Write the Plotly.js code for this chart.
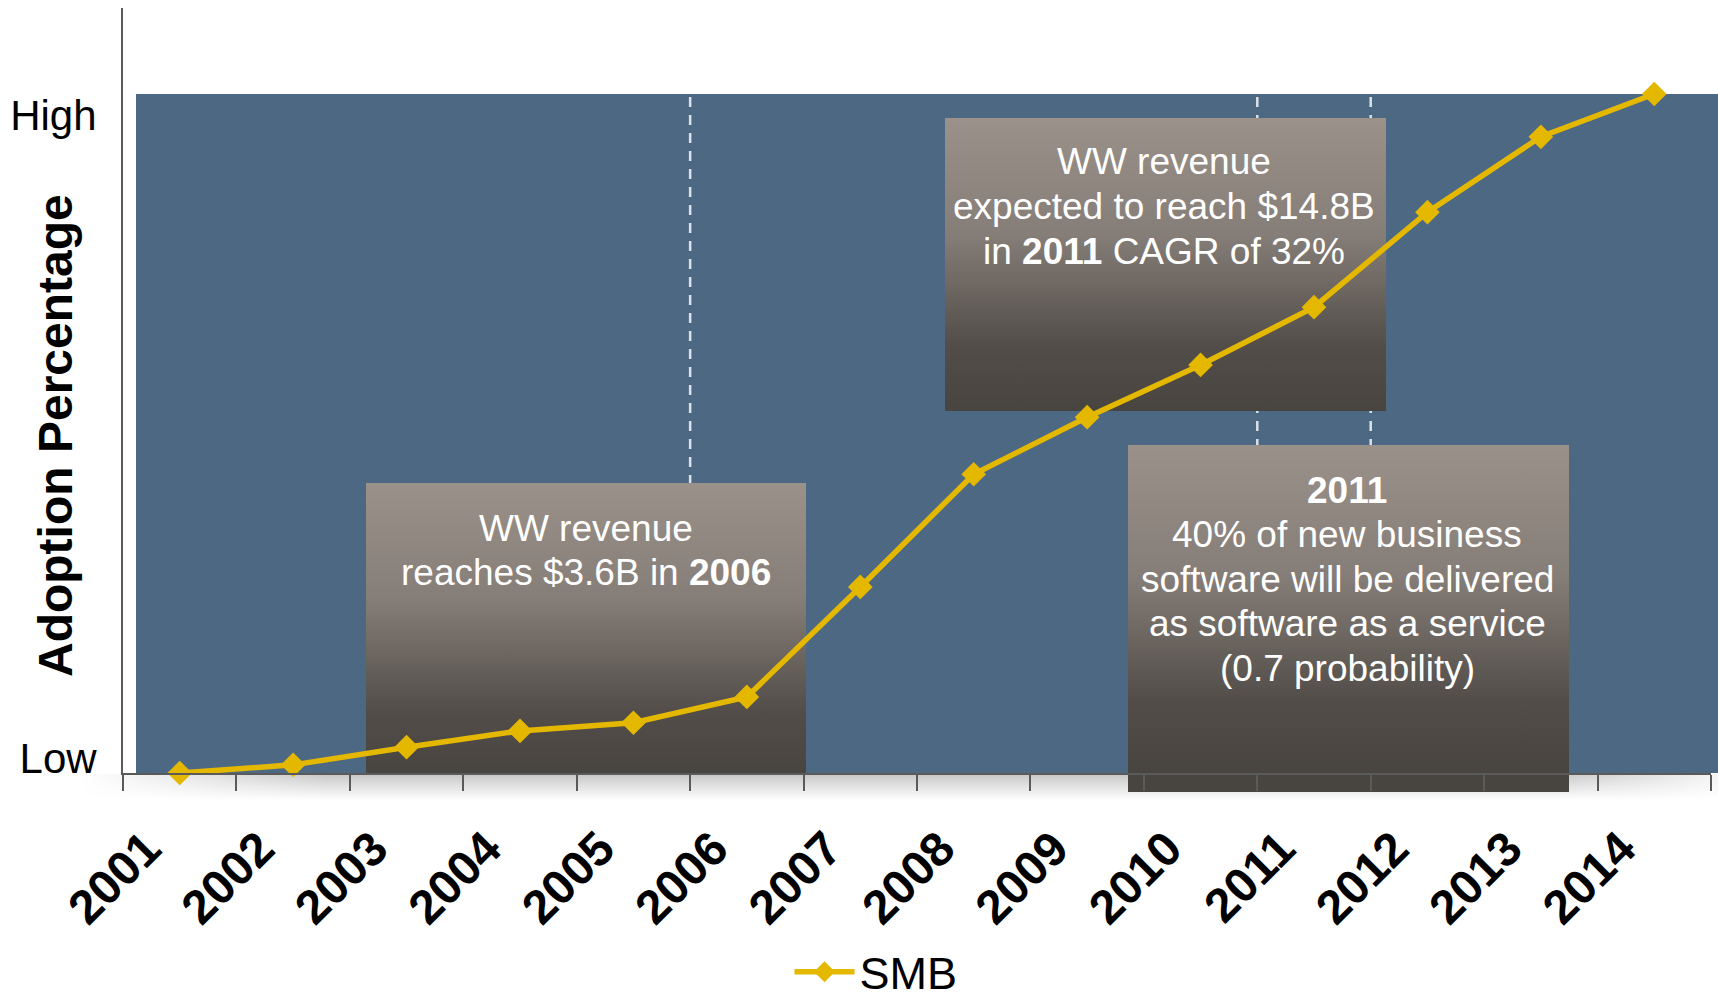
<!DOCTYPE html>
<html>
<head>
<meta charset="utf-8">
<script src="https://cdn.plot.ly/plotly-3.0.1.min.js"></script>
<style>
html,body{margin:0;padding:0;background:#ffffff;}
#chart{width:1718px;height:1000px;}
</style>
</head>
<body>
<div id="chart"></div>
<script>
// ---------------- DATA ----------------
const years = ['2001','2002','2003','2004','2005','2006','2007','2008','2009','2010','2011','2012','2013','2014'];
const smbAdoption = [0, 1.2, 3.8, 6.2, 7.4, 11.2, 27.4, 44, 52.4, 60.1, 68.6, 82.6, 93.7, 100];
const seriesName = 'SMB';
const yTickVals = [2.1, 96.8];
const yTickText = ['Low', 'High'];
const yTitle = 'Adoption Percentage';
const milestoneBounds = [4.5, 9.5, 10.5];
const box1Lines = ['WW revenue', 'reaches $3.6B in <b>2006</b>'];
const box2Lines = ['WW revenue', 'expected to reach $14.8B', 'in <b>2011</b> CAGR of 32%'];
const box3Lines = ['<b>2011</b>', '40% of new business', 'software will be delivered', 'as software as a service', '(0.7 probability)'];

// ---------------- LAYOUT HELPERS ----------------
const W = 1718, H = 1000;
const M = {l: 123, r: 7, t: 8, b: 227, autoexpand: false};
const plotW = W - M.l - M.r, plotH = H - M.t - M.b;
const baseY = H - M.b;
const px2paperX = px => (px - M.l) / plotW;
const px2paperY = py => (baseY - py) / plotH;

const FONT = 'Liberation Sans, Arial, Helvetica, sans-serif';
const BLUE = '#4d6882';
const GOLD = '#e5b800';
const AXIS = '#5a5a5a';

function svgURI(svg){ return 'data:image/svg+xml;base64,' + btoa(svg); }
const boxGradient = svgURI(
  '<svg xmlns="http://www.w3.org/2000/svg" width="100" height="100" viewBox="0 0 100 100" preserveAspectRatio="none">' +
  '<defs><linearGradient id="g" x1="0" y1="0" x2="0" y2="1">' +
  '<stop offset="0" stop-color="#9a918a"/><stop offset="0.4" stop-color="#857d77"/>' +
  '<stop offset="0.78" stop-color="#524d49"/><stop offset="1" stop-color="#48443f"/>' +
  '</linearGradient></defs><rect x="0" y="0" width="100" height="100" fill="url(#g)"/></svg>');
const shadowGradient = svgURI(
  '<svg xmlns="http://www.w3.org/2000/svg" width="100" height="100" viewBox="0 0 100 100" preserveAspectRatio="none">' +
  '<defs><linearGradient id="v" x1="0" y1="0" x2="0" y2="1">' +
  '<stop offset="0" stop-color="#000" stop-opacity="0.22"/><stop offset="1" stop-color="#000" stop-opacity="0"/></linearGradient>' +
  '<linearGradient id="h" x1="0" y1="0" x2="1" y2="0">' +
  '<stop offset="0" stop-color="#fff" stop-opacity="0"/><stop offset="0.15" stop-color="#fff" stop-opacity="1"/>' +
  '<stop offset="0.9" stop-color="#fff" stop-opacity="1"/><stop offset="1" stop-color="#fff" stop-opacity="0.2"/></linearGradient>' +
  '<mask id="m"><rect width="100" height="100" fill="url(#h)"/></mask></defs>' +
  '<rect width="100" height="100" fill="url(#v)" mask="url(#m)"/></svg>');

// category-axis pixel → category index
const catW = plotW / years.length;
const px2cat = px => (px - M.l) / catW - 0.5;
const yScale = 6.79; // px per unit
const py2val = py => (baseY - py) / yScale;

// annotation boxes (pixel frames)
const boxes = [
  {x0: 366, x1: 806, y0: 483, y1: 776, cx: 586, firstY: 528, lines: box1Lines},
  {x0: 945, x1: 1386, y0: 118, y1: 411, cx: 1164, firstY: 162, lines: box2Lines},
  {x0: 1128, x1: 1569, y0: 445, y1: 773, cx: 1347, firstY: 490, lines: box3Lines}
];
const LINE_GAP = 44.6;

const images = [{
  source: shadowGradient, xref: 'paper', yref: 'paper',
  x: px2paperX(80), y: px2paperY(774), sizex: (W - 80) / plotW, sizey: 26 / plotH,
  xanchor: 'left', yanchor: 'top', sizing: 'stretch', layer: 'below'
}];
boxes.forEach(b => {
  images.push({
    source: boxGradient, xref: 'x', yref: 'y',
    x: px2cat(b.x0), y: py2val(b.y0),
    sizex: (b.x1 - b.x0) / catW, sizey: (b.y1 - b.y0) / yScale,
    xanchor: 'left', yanchor: 'top', sizing: 'stretch', layer: 'below'
  });
});

const shapes = [
  {type: 'rect', layer: 'below', xref: 'paper', yref: 'y',
   x0: px2paperX(136), x1: px2paperX(W + 5), y0: 0, y1: 100,
   fillcolor: BLUE, line: {width: 0}},
  // lower extension of third box below the axis line
  {type: 'rect', layer: 'below', xref: 'paper', yref: 'paper',
   x0: px2paperX(1128), x1: px2paperX(1569), y0: px2paperY(792), y1: px2paperY(772),
   fillcolor: '#48443f', line: {width: 0}}
];
milestoneBounds.forEach(xb => {
  shapes.push({type: 'line', layer: 'below', xref: 'x', yref: 'y',
    x0: xb, x1: xb, y0: 0, y1: 100,
    line: {color: 'rgba(235,238,242,0.9)', width: 2.5, dash: '10px,8px'}});
});

const annotations = [{
  text: '<b>' + yTitle + '</b>', textangle: -90, xref: 'paper', yref: 'paper',
  x: px2paperX(55), y: px2paperY(436), xanchor: 'center', yanchor: 'middle',
  showarrow: false, font: {family: FONT, size: 48, color: '#000'}
}];
boxes.forEach(b => {
  b.lines.forEach((t, i) => {
    annotations.push({
      text: t, xref: 'paper', yref: 'paper',
      x: px2paperX(b.cx), y: px2paperY(b.firstY + i * LINE_GAP),
      xanchor: 'center', yanchor: 'middle', showarrow: false,
      font: {family: FONT, size: 37, color: '#ffffff'}
    });
  });
});

const trace = {
  type: 'scatter', mode: 'lines+markers', name: seriesName,
  x: years, y: smbAdoption, cliponaxis: false,
  line: {color: GOLD, width: 5.5},
  marker: {symbol: 'diamond', size: 19, color: GOLD}
};

const layout = {
  width: W, height: H,
  margin: M,
  paper_bgcolor: '#ffffff', plot_bgcolor: 'rgba(0,0,0,0)',
  font: {family: FONT, color: '#000'},
  showlegend: true,
  legend: {orientation: 'h', x: px2paperX(876), xanchor: 'center', y: px2paperY(972), yanchor: 'middle',
           font: {family: FONT, size: 45, color: '#000'}, itemwidth: 60, bgcolor: 'rgba(0,0,0,0)',
           tracegroupgap: 0},
  xaxis: {
    type: 'category', range: [-0.5, 13.5], showgrid: false, zeroline: false, automargin: false,
    showline: true, linecolor: AXIS, linewidth: 2,
    ticks: 'outside', tickson: 'boundaries', ticklen: 16, tickwidth: 2, tickcolor: AXIS,
    tickangle: -45, ticklabelstandoff: 26, ticklabelshift: -33,
    tickfont: {family: FONT, size: 48, color: '#000', weight: 'bold'}
  },
  yaxis: {
    range: [0, plotH / yScale], showgrid: false, zeroline: false, automargin: false,
    showline: true, linecolor: AXIS, linewidth: 2, ticks: '',
    tickvals: yTickVals, ticktext: yTickText, ticklabelstandoff: 16,
    tickfont: {family: FONT, size: 42, color: '#000'}
  },
  shapes: shapes, images: images, annotations: annotations
};

Plotly.newPlot('chart', [trace], layout, {displayModeBar: false, staticPlot: true});
</script>
</body>
</html>
